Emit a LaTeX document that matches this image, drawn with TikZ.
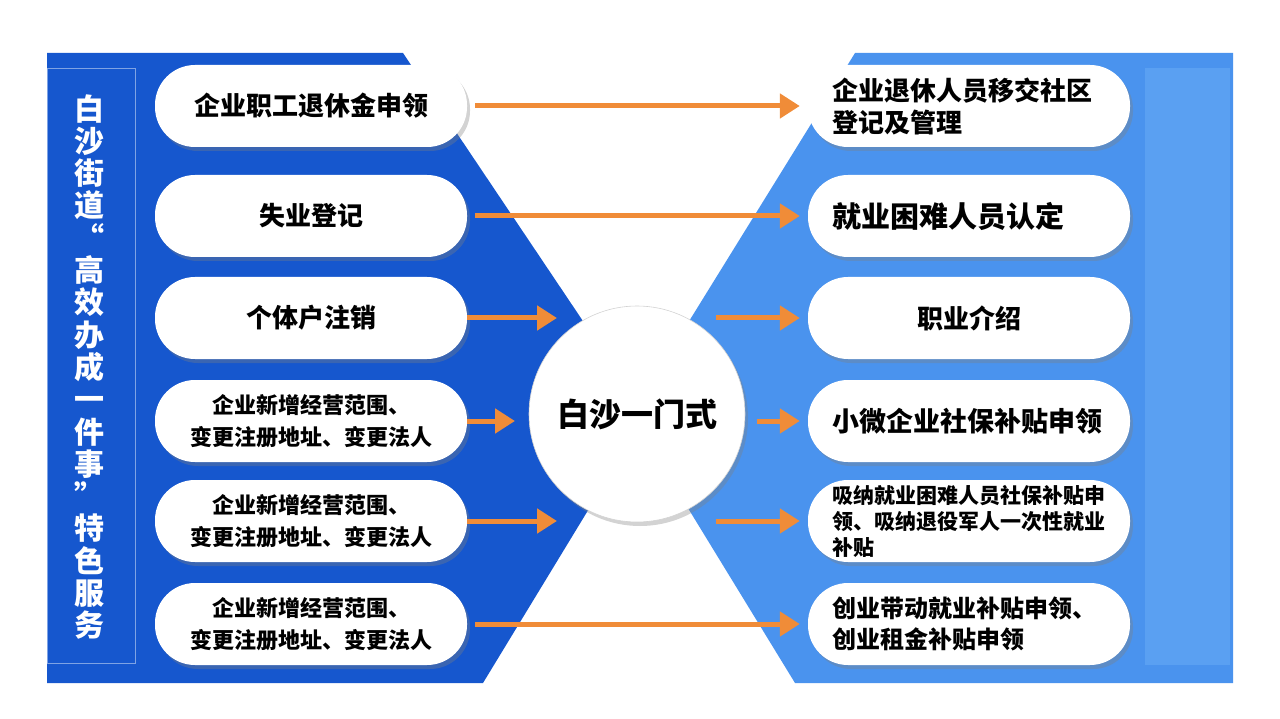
\documentclass[tikz,border=0pt]{standalone}
\usepackage{fontspec}
\newfontfamily\cjk{Noto Sans CJK SC}
\usetikzlibrary{arrows.meta,shadows}
\definecolor{darkpanel}{HTML}{1657CE}
\definecolor{lightpanel}{HTML}{4A93EE}
\definecolor{lightstrip}{HTML}{5AA0F2}
\definecolor{arroworange}{HTML}{F08C38}
\newcommand{\fs}[2]{\fontsize{#1}{#2}\selectfont}

\begin{document}
\begin{tikzpicture}[x=1pt, y=-1pt,
        pill/.style={rectangle, rounded corners=40pt, fill=white, minimum height=82pt,
            drop shadow={shadow xshift=3pt, shadow yshift=-4pt, opacity=0.35},
            inner ysep=0pt, text=black},
        lpill/.style={pill, minimum width=312pt, align=center, font=\cjk\bfseries\fs{26}{32}},
        rpill/.style={pill, inner xsep=24pt, text width=274pt, align=left, font=\cjk\bfseries\fs{26}{32}},
        arrow/.style={-{Triangle[length=20pt, width=24pt]}, line width=5pt, arroworange}
    ]
    \useasboundingbox (0,0) rectangle (1280,719);
    % Panels
    \fill[darkpanel] (47,53) -- (403,53) -- (646,415) -- (483,683) -- (47,683) -- cycle;
    \fill[lightpanel] (855,53) -- (1233,53) -- (1233,683) -- (795,683) -- (631,415) -- cycle;
    \fill[lightstrip] (1145,68) rectangle (1230,665);
    \draw[white!45!darkpanel, line width=0.8pt] (47,68) rectangle (135,663);
    % Title
    \node[text=white, align=center, font=\cjk\bfseries\fs{30}{32.3}] (title) at (89,367)
        {白\\沙\\街\\道\\“\\高\\效\\办\\成\\一\\件\\事\\”\\特\\色\\服\\务};
    % Nodes
    \node[lpill] (L1) at (311,106) {企业职工退休金申领};
    \node[lpill] (L2) at (311,216) {失业登记};
    \node[lpill] (L3) at (311,318) {个体户注销};
    \node[lpill, font=\cjk\bfseries\fs{22}{32}] (L4) at (311,421) {企业新增经营范围、\\变更注册地址、变更法人};
    \node[lpill, font=\cjk\bfseries\fs{22}{32}] (L5) at (311,521) {企业新增经营范围、\\变更注册地址、变更法人};
    \node[lpill, font=\cjk\bfseries\fs{22}{32}] (L6) at (311,624) {企业新增经营范围、\\变更注册地址、变更法人};
    \node[rpill] (R1) at (969,106) {企业退休人员移交社区\\登记及管理};
    \node[rpill, font=\cjk\bfseries\fs{29}{32}] (R2) at (969,216) {就业困难人员认定};
    \node[rpill, align=center] (R3) at (969,318) {职业介绍};
    \node[rpill, font=\cjk\bfseries\fs{27}{32}] (R4) at (969,421) {小微企业社保补贴申领};
    \node[rpill, font=\cjk\bfseries\fs{21}{26}] (R5) at (969,521) {吸纳就业困难人员社保补贴申\\领、吸纳退役军人一次性就业\\补贴};
    \node[rpill, font=\cjk\bfseries\fs{24}{31}] (R6) at (969,624) {创业带动就业补贴申领、\\创业租金补贴申领};
    \node[circle, fill=white, draw=gray!35, line width=0.6pt, minimum size=216pt,
        drop shadow={shadow xshift=3pt, shadow yshift=-4pt, opacity=0.35},
        font=\cjk\bfseries\fs{32}{36}] (hub) at (637,414) {白沙一门式};
    \coordinate (in3) at (557,318);
    \coordinate (in4) at (515,421);
    \coordinate (in5) at (557,521);
    \coordinate (out3) at (716,318);
    \coordinate (out4) at (757,421);
    \coordinate (out5) at (716,521);
    % Edges
    \draw[arrow, shorten <=8pt, shorten >=8pt] (L1) -- (R1);
    \draw[arrow, shorten <=8pt, shorten >=8pt] (L2) -- (R2);
    \draw[arrow] (L3) -- (in3);
    \draw[arrow] (L4) -- (in4);
    \draw[arrow] (L5) -- (in5);
    \draw[arrow, shorten <=8pt, shorten >=8pt] (L6) -- (R6);
    \draw[arrow, shorten >=8pt] (out3) -- (R3);
    \draw[arrow, shorten >=8pt] (out4) -- (R4);
    \draw[arrow, shorten >=8pt] (out5) -- (R5);
\end{tikzpicture}
\end{document}
